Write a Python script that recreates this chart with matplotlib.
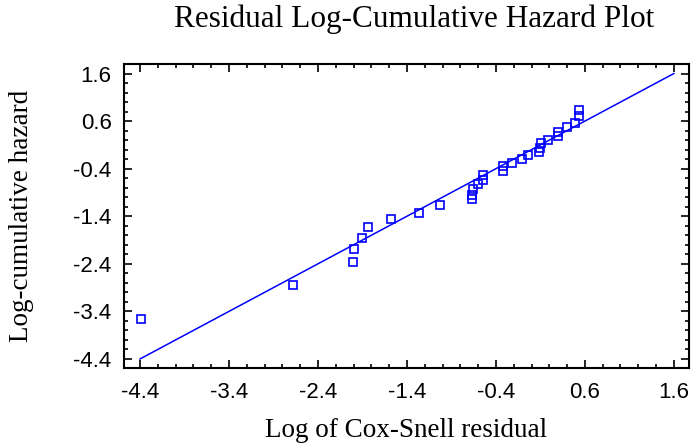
import matplotlib
matplotlib.use("Agg")
import matplotlib.pyplot as plt
from matplotlib.ticker import FixedLocator

log_cs_resid = [-4.385, -2.677, -2.010, -1.996, -1.906, -1.835, -1.576, -1.262, -1.033,
                -0.666, -0.666, -0.655, -0.599, -0.549, -0.543, -0.318, -0.318, -0.217,
                -0.111, -0.037, 0.087, 0.094, 0.102, 0.188, 0.293, 0.293, 0.401, 0.488,
                0.536, 0.536]
log_cum_hazard = [-3.555, -2.841, -2.371, -2.091, -1.860, -1.622, -1.467, -1.335, -1.167,
                  -1.047, -0.950, -0.837, -0.726, -0.642, -0.543, -0.459, -0.347, -0.278,
                  -0.194, -0.123, -0.047, 0.024, 0.142, 0.213, 0.297, 0.373, 0.466, 0.562,
                  0.703, 0.829]
ref_line = [-4.4, 1.6]
tick_vals = [-4.4, -3.4, -2.4, -1.4, -0.4, 0.6, 1.6]
tick_labels = ["-4.4", "-3.4", "-2.4", "-1.4", "-0.4", "0.6", "1.6"]

W, H = 693, 444
fig = plt.figure(figsize=(W/100, H/100), dpi=100)
ax = fig.add_axes([124/W, 1 - 368/H, (689-124)/W, (368-64)/H])

blue = "#0000ff"
ax.plot(ref_line, ref_line, color=blue, lw=1.1)
ax.plot(log_cs_resid, log_cum_hazard, linestyle="none", marker="s", markersize=6.3,
        markerfacecolor="none", markeredgecolor=blue, markeredgewidth=1.2)

ax.set_xlim(-4.58, 1.77)
ax.set_ylim(-4.59, 1.8)

ax.xaxis.set_major_locator(FixedLocator(tick_vals))
ax.yaxis.set_major_locator(FixedLocator(tick_vals))
minor = [v + d for v in tick_vals[:-1] for d in (0.2, 0.4, 0.6, 0.8)]
ax.xaxis.set_minor_locator(FixedLocator(minor))
ax.yaxis.set_minor_locator(FixedLocator(minor))
ax.set_xticklabels(tick_labels)
ax.set_yticklabels(tick_labels)

ax.tick_params(which="both", direction="in", top=True, right=True, width=1.2)
ax.tick_params(which="major", length=6, labelsize=16)
ax.tick_params(axis="x", which="major", pad=10)
ax.tick_params(axis="y", which="major", pad=9)
ax.tick_params(which="minor", length=3)
for lab in ax.get_xticklabels() + ax.get_yticklabels():
    lab.set_fontfamily("Liberation Sans")
for s in ax.spines.values():
    s.set_linewidth(1.5)

fig.text((124+689)/2/W, 1 - 437/H, "Log of Cox-Snell residual",
         fontfamily="Liberation Serif", fontsize=19.5, ha="center", va="baseline")
fig.text(34/W, 1 - (64+368)/2/H, "Log-cumulative hazard", rotation=90,
         fontfamily="Liberation Serif", fontsize=19.5, ha="right", va="center")
fig.text(414/W, 1 - 27/H, "Residual Log-Cumulative Hazard Plot",
         fontfamily="Liberation Serif", fontsize=22.5, ha="center", va="baseline")

fig.savefig("out.png", dpi=100)
